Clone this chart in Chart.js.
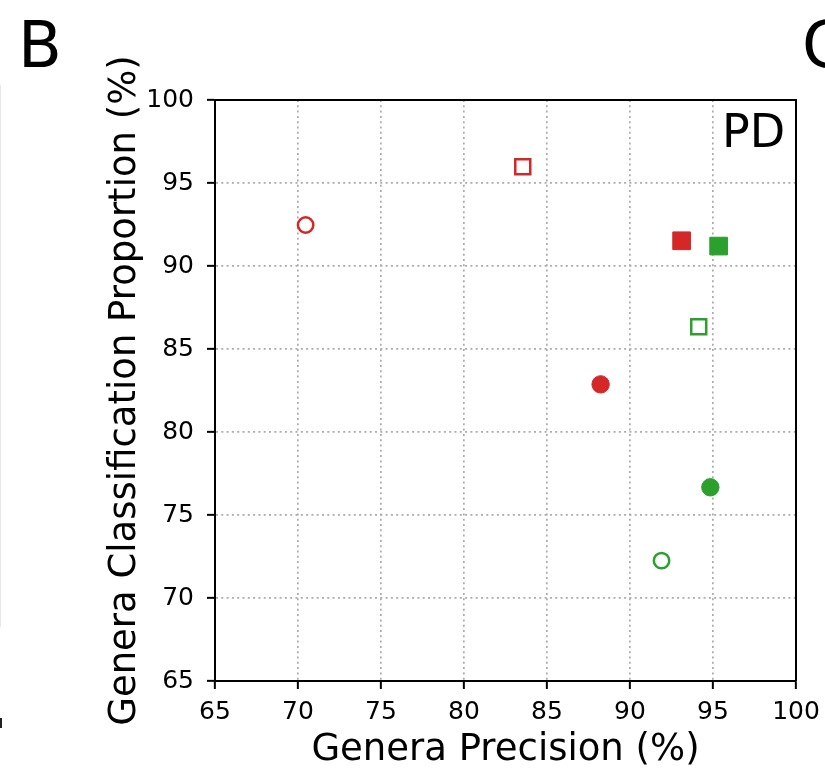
<!DOCTYPE html>
<html>
<head>
<meta charset="utf-8">
<script src="https://cdn.jsdelivr.net/npm/chart.js@4.4.1/dist/chart.umd.min.js"></script>
<style>
  html, body { margin: 0; padding: 0; background: #fff; }
  #wrap { width: 825px; height: 773px; }
</style>
</head>
<body>
<div id="wrap"><canvas id="myChart" width="825" height="773"></canvas></div>
<script>
// values
const precision  = [70.46, 83.54, 93.11, 95.34, 94.14, 88.23, 94.84, 91.90];
const proportion = [92.47, 95.98, 91.52, 91.20, 86.34, 82.87, 76.67, 72.25];
const xTicks = [65, 70, 75, 80, 85, 90, 95, 100];
const yTicks = [65, 70, 75, 80, 85, 90, 95, 100];

// marker look, one per point
const RED = '#d62728';
const GREEN = '#2ca02c';
const markerColor  = [RED, RED, RED, GREEN, GREEN, RED, GREEN, GREEN];
const markerShape  = ['circle', 'rect', 'rect', 'rect', 'rect', 'circle', 'circle', 'circle'];
const markerFilled = [false, false, true, true, false, true, true, false];

const FONT = "'DejaVu Sans', sans-serif";

const points = precision.map((x, i) => ({ x: x, y: proportion[i] }));

function radiusFor(i) {
  if (markerShape[i] === 'rect') return markerFilled[i] ? 12.5 : 10.6;
  return markerFilled[i] ? 8.7 : 7.7;
}

const panelText = {
  id: 'panelText',
  afterDraw(chart) {
    const c = chart.ctx;
    const a = chart.chartArea;
    c.save();
    // frame (top + right spines)
    c.strokeStyle = '#000';
    c.lineWidth = 2;
    c.beginPath();
    c.moveTo(a.left, a.top);
    c.lineTo(a.right, a.top);
    c.lineTo(a.right, a.bottom);
    c.stroke();

    c.fillStyle = '#000';
    c.textBaseline = 'alphabetic';
    c.font = '64px ' + FONT;
    c.fillText('B', 18, 67);
    c.fillText('C', 802, 67);

    c.font = '46px ' + FONT;
    c.fillText('PD', 722, 147);

    // bits of the neighbouring panel
    c.strokeStyle = '#e6e6e6';
    c.lineWidth = 1;
    c.beginPath();
    c.moveTo(0.5, 85);
    c.lineTo(0.5, 627);
    c.stroke();
    c.fillStyle = '#222';
    c.fillRect(0, 718, 2, 10);
    c.restore();
  }
};

const ctx = document.querySelector('#myChart').getContext('2d');

new Chart(ctx, {
  type: 'scatter',
  data: {
    datasets: [{
      data: points,
      pointStyle: markerShape,
      pointRadius: precision.map((v, i) => radiusFor(i)),
      pointHoverRadius: precision.map((v, i) => radiusFor(i)),
      borderColor: markerColor,
      backgroundColor: markerColor.map((col, i) => markerFilled[i] ? col : 'rgba(0,0,0,0)'),
      borderWidth: markerFilled.map(f => f ? 1 : 2.5),
    }]
  },
  options: {
    responsive: false,
    animation: false,
    layout: {
      padding: { left: 103, top: 100, right: 29, bottom: 0 }
    },
    plugins: {
      legend: { display: false },
      tooltip: { enabled: false }
    },
    scales: {
      x: {
        type: 'linear',
        min: 65,
        max: 100,
        afterBuildTicks: (scale) => { scale.ticks = xTicks.map(v => ({ value: v })); },
        afterFit: (scale) => {
          scale.height = 92;
          scale.paddingLeft = 0;
          scale.paddingRight = 0;
        },
        ticks: {
          color: '#000',
          font: { family: FONT, size: 25 },
          padding: 8,
          maxRotation: 0,
        },
        grid: {
          color: '#ababab',
          lineWidth: 1.7,
          tickLength: 8,
          tickColor: '#000',
          tickWidth: 2,
          tickBorderDash: [],
        },
        border: { color: '#000', width: 2, dash: [2, 3.3] },
        title: {
          display: true,
          text: 'Genera Precision (%)',
          color: '#000',
          font: { family: FONT, size: 37 },
          padding: { top: 0, bottom: 0 }
        }
      },
      y: {
        type: 'linear',
        min: 65,
        max: 100,
        afterBuildTicks: (scale) => { scale.ticks = yTicks.map(v => ({ value: v })); },
        afterFit: (scale) => {
          scale.width = 112;
          scale.paddingTop = 0;
          scale.paddingBottom = 0;
        },
        ticks: {
          color: '#000',
          font: { family: FONT, size: 25 },
          padding: 13,
        },
        grid: {
          color: '#ababab',
          lineWidth: 1.7,
          tickLength: 8,
          tickColor: '#000',
          tickWidth: 2,
          tickBorderDash: [],
        },
        border: { color: '#000', width: 2, dash: [2, 3.3] },
        title: {
          display: true,
          text: 'Genera Classification Proportion (%)',
          color: '#000',
          font: { family: FONT, size: 37 },
          padding: { top: 0, bottom: 0 }
        }
      }
    }
  },
  plugins: [panelText],
});
</script>
</body>
</html>
